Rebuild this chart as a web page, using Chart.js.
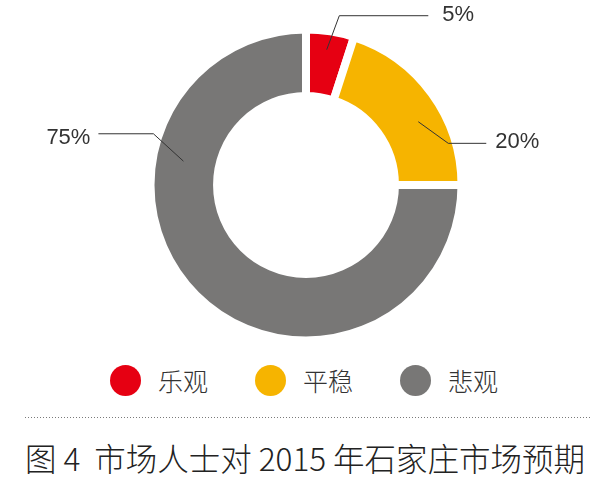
<!DOCTYPE html>
<html>
<head>
<meta charset="utf-8">
<script src="https://cdn.jsdelivr.net/npm/chart.js@4/dist/chart.umd.min.js"></script>
<style>
  html, body { margin: 0; padding: 0; background: #fff; }
  body { width: 600px; height: 492px; position: relative; overflow: hidden;
         font-family: "Noto Sans CJK SC", "Noto Sans", sans-serif; }
  #wrap { position: absolute; left: 0; top: 0; width: 600px; height: 360px; }
  #legend { position: absolute; left: 110px; top: 364px; height: 32px; display: flex; align-items: center; gap: 47px; }
  .item { display: flex; align-items: center; }
  .dot { width: 31px; height: 31px; border-radius: 50%; margin-right: 17px; }
  .lbl { font-size: 25px; line-height: 25px; font-weight: 300; color: #333; }
  #rule { position: absolute; left: 25px; top: 417px; width: 567px; height: 1px;
          background: repeating-linear-gradient(to right, #7a7a7a 0 1px, transparent 1px 3px); }
  #caption { position: absolute; left: 25px; top: 442px; font-size: 31.5px; line-height: 31px;
             font-weight: 300; color: #222; white-space: pre; }
</style>
</head>
<body>
<div id="wrap"><canvas id="c" width="600" height="360"></canvas></div>
<div id="legend"></div>
<div id="rule"></div>
<div id="caption"></div>
<script>
// ---- data ----
const categories = ['乐观', '平稳', '悲观'];
const values = [5, 20, 75];
const valueLabels = ['5%', '20%', '75%'];
const colors = ['#E60012', '#F6B400', '#787776'];
const captionText = '图 4  市场人士对 2015 年石家庄市场预期';

// leader line styling per slice (angle from top clockwise, ring fraction, elbow offset, horizontal run, text offset)
const leaders = [
  { angle: 8.7,  rf: 0.72, elbow: [12.6, -34], run: 89,  gap: 14, dy: -1 },
  { angle: 60.6, rf: 0.60, elbow: [30, 21.6],  run: 38,  gap: 9,  dy: -1.5 },
  { angle: 281,  rf: 0.54, elbow: [-30, -27.4], run: -55, gap: 8,  dy: 4 }
];

const leaderPlugin = {
  id: 'leaders',
  afterDatasetsDraw(chart) {
    const ctx = chart.ctx;
    const meta = chart.getDatasetMeta(0);
    ctx.save();
    meta.data.forEach((arc, i) => {
      const L = leaders[i];
      const p = arc.getProps(['x', 'y', 'innerRadius', 'outerRadius'], true);
      const r = p.innerRadius + L.rf * (p.outerRadius - p.innerRadius);
      const a = (L.angle - 90) * Math.PI / 180;
      const x0 = p.x + r * Math.cos(a), y0 = p.y + r * Math.sin(a);
      const x1 = x0 + L.elbow[0], y1 = y0 + L.elbow[1];
      const x2 = x1 + L.run;
      ctx.strokeStyle = '#333';
      ctx.lineWidth = 1;
      ctx.beginPath();
      ctx.moveTo(x0, y0); ctx.lineTo(x1, y1); ctx.lineTo(x2, y1);
      ctx.stroke();
      ctx.fillStyle = '#333';
      ctx.font = '22px "Liberation Sans", Arial, sans-serif';
      ctx.textBaseline = 'middle';
      if (L.run >= 0) { ctx.textAlign = 'left'; ctx.fillText(valueLabels[i], x2 + L.gap, y1 + L.dy); }
      else { ctx.textAlign = 'right'; ctx.fillText(valueLabels[i], x2 - L.gap, y1 + L.dy); }
    });
    ctx.restore();
  }
};

new Chart(document.getElementById('c'), {
  type: 'doughnut',
  data: {
    labels: categories,
    datasets: [{
      data: values,
      backgroundColor: colors,
      borderColor: '#ffffff',
      borderWidth: 8,
      hoverOffset: 0
    }]
  },
  options: {
    responsive: false,
    animation: false,
    devicePixelRatio: 1,
    cutout: '57.2%',
    rotation: 0,
    layout: { padding: { top: 25.5, bottom: 15.5, left: 12, right: 0 } },
    plugins: { legend: { display: false }, tooltip: { enabled: false } }
  },
  plugins: [leaderPlugin]
});

// HTML legend built from the same arrays
const lg = document.getElementById('legend');
categories.forEach((c, i) => {
  const it = document.createElement('div'); it.className = 'item';
  const d = document.createElement('div'); d.className = 'dot'; d.style.background = colors[i];
  const t = document.createElement('span'); t.className = 'lbl'; t.textContent = c;
  it.appendChild(d); it.appendChild(t); lg.appendChild(it);
});
document.getElementById('caption').textContent = captionText;
</script>
</body>
</html>
